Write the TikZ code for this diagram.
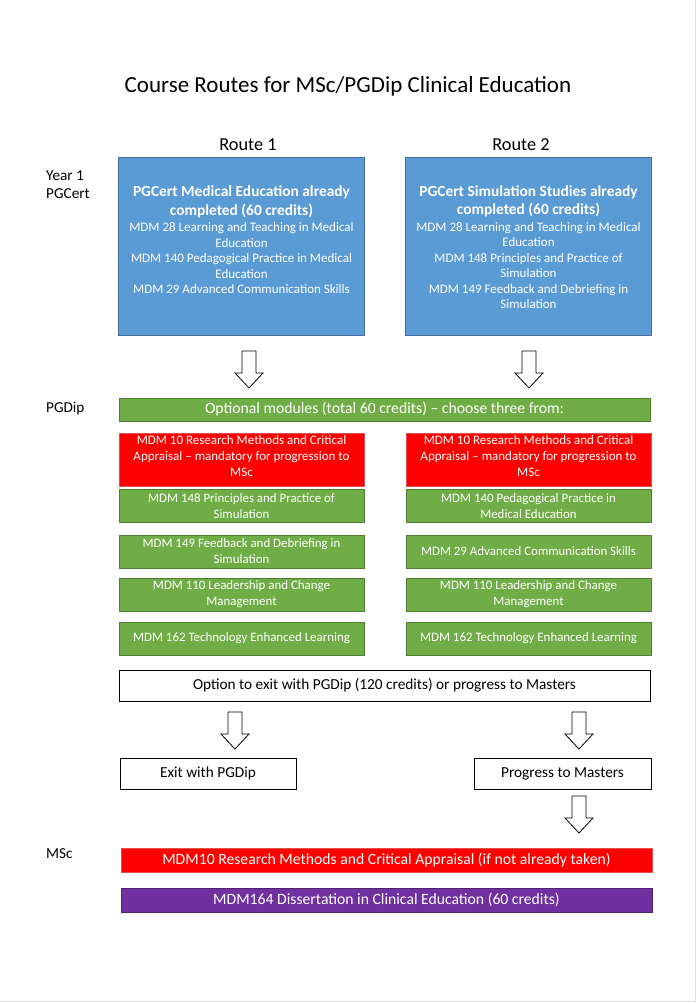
\documentclass[tikz,border=0pt]{standalone}
\usepackage{fontspec}
\setmainfont{Carlito}
\usepackage{xcolor}
\usetikzlibrary{positioning}
\definecolor{bluefill}{HTML}{5B9BD5}
\definecolor{blueline}{HTML}{41719C}
\definecolor{greenfill}{HTML}{70AD47}
\definecolor{greenline}{HTML}{507E32}
\definecolor{redfill}{HTML}{FF0000}
\definecolor{redline}{HTML}{E05050}
\definecolor{purplefill}{HTML}{7030A0}
\definecolor{purpleline}{HTML}{4F2170}
\newcommand{\boxtitle}{\fontsize{15.4}{18}\selectfont\bfseries}

\begin{document}
\begin{tikzpicture}[x=1pt, y=-1pt]
        % Stijlen
        \tikzstyle{box} = [rectangle, inner sep=1pt, align=center, text centered]
        \tikzstyle{bluebox} = [box, draw=blueline, fill=bluefill, text=white, minimum width=246, minimum height=178, font=\fontsize{13}{15.5}\selectfont]
        \tikzstyle{redbox} = [box, draw=redline, fill=redfill, text=white, minimum width=245, minimum height=53, font=\fontsize{13}{16}\selectfont]
        \tikzstyle{greenbox} = [box, draw=greenline, fill=greenfill, text=white, minimum width=245, minimum height=33, font=\fontsize{12.9}{16}\selectfont]
        \tikzstyle{widebar} = [box, minimum width=531, minimum height=24, text=white, font=\fontsize{15.7}{18}\selectfont]
        \tikzstyle{plainbox} = [box, draw=black, fill=white, minimum height=31, font=\fontsize{15.3}{18}\selectfont]
        \tikzstyle{sidelabel} = [anchor=west, align=left, inner sep=0pt, font=\fontsize{15.2}{18}\selectfont]
        \tikzset{downarrow/.pic={\draw[fill=white, line width=0.8pt] (-7,0) -- (7,0) -- (7,22) -- (14,22) -- (0,37) -- (-14,22) -- (-7,22) -- cycle;}}

        \useasboundingbox (0,0) rectangle (696,1003);
        \draw[black!12] (695,0) -- (695,1001) -- (0,1001);

        % Titels
        \node (title) [font=\fontsize{23}{26}\selectfont] at (348,86) {Course Routes for MSc/PGDip Clinical Education};
        \node (routeA) [font=\fontsize{18.3}{20}\selectfont] at (248,145) {Route 1};
        \node (routeB) [font=\fontsize{18.3}{20}\selectfont] at (521,145) {Route 2};
        \node (yearlabel) [sidelabel] at (46,185) {Year 1\\PGCert};
        \node (pgdiplabel) [sidelabel] at (46,408) {PGDip};
        \node (msclabel) [sidelabel] at (46,854) {MSc};

        % PGCert
        \node (pgcertA) [bluebox] at (241.5,246) {{\boxtitle PGCert Medical Education already}\\[3pt]{\boxtitle completed (60 credits)}\\[1pt]MDM 28 Learning and Teaching in Medical\\Education\\MDM 140 Pedagogical Practice in Medical\\Education\\MDM 29 Advanced Communication Skills\\[-3.5pt]};
        \node (pgcertB) [bluebox] at (528.5,246) {{\boxtitle PGCert Simulation Studies already}\\[3pt]{\boxtitle completed (60 credits)}\\[1pt]MDM 28 Learning and Teaching in Medical\\Education\\MDM 148 Principles and Practice of\\Simulation\\MDM 149 Feedback and Debriefing in\\Simulation\\[-17.5pt]};

        % PGDip
        \node (optional) [widebar, draw=greenline, fill=greenfill, minimum height=23] at (384.5,409.5) {Optional modules (total 60 credits) -- choose three from:};
        \node (researchA) [redbox] at (241.5,460) {MDM 10 Research Methods and Critical\\Appraisal -- mandatory for progression to\\MSc\\[-8pt]};
        \node (researchB) [redbox] at (528.5,460) {MDM 10 Research Methods and Critical\\Appraisal -- mandatory for progression to\\MSc\\[-8pt]};
        \node (simA) [greenbox] at (241.5,506) {MDM 148 Principles and Practice of\\Simulation};
        \node (feedbackA) [greenbox] at (241.5,551.5) {MDM 149 Feedback and Debriefing in\\Simulation};
        \node (leadA) [greenbox] at (241.5,594.5) {MDM 110 Leadership and Change\\Management};
        \node (techA) [greenbox] at (241.5,638.5) {MDM 162 Technology Enhanced Learning};
        \node (pedaB) [greenbox] at (528.5,506) {MDM 140 Pedagogical Practice in\\Medical Education};
        \node (commB) [greenbox] at (528.5,551.5) {MDM 29 Advanced Communication Skills};
        \node (leadB) [greenbox] at (528.5,594.5) {MDM 110 Leadership and Change\\Management};
        \node (techB) [greenbox] at (528.5,638.5) {MDM 162 Technology Enhanced Learning};

        % Exit of verder
        \node (option) [plainbox, minimum width=531] at (384.5,685.5) {Option to exit with PGDip (120 credits) or progress to Masters};
        \node (exit) [plainbox, minimum width=176] at (208,773.5) {Exit with PGDip};
        \node (progress) [plainbox, minimum width=177] at (562.5,773.5) {Progress to Masters};

        % MSc
        \node (researchMsc) [widebar, draw=redline, fill=redfill] at (386.5,860) {MDM10 Research Methods and Critical Appraisal (if not already taken)};
        \node (dissertation) [widebar, draw=purpleline, fill=purplefill] at (386.5,900) {MDM164 Dissertation in Clinical Education (60 credits)};

        % Pijlen
        \pic at (249,351) {downarrow};
        \pic at (529,351) {downarrow};
        \pic at (235,712) {downarrow};
        \pic at (579,712) {downarrow};
        \pic at (579,796) {downarrow};
    \end{tikzpicture}
\end{document}
